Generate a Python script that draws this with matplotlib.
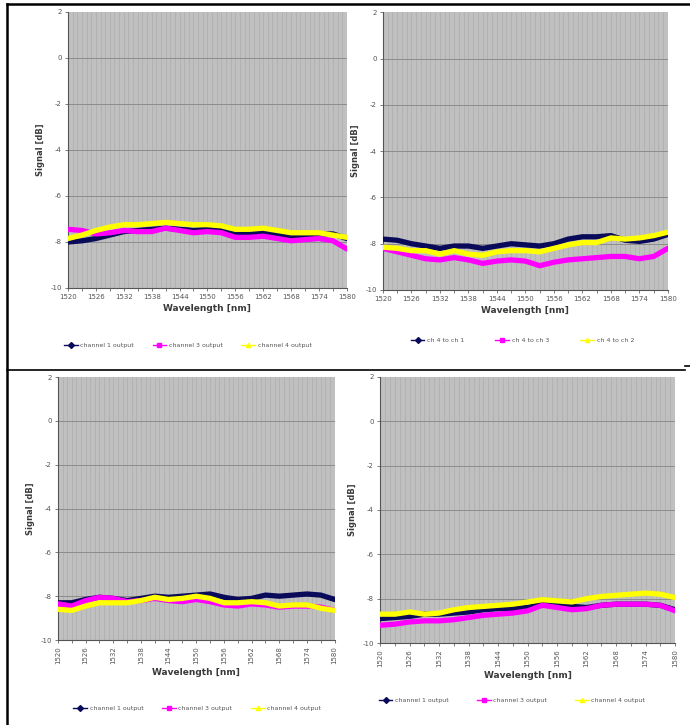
import matplotlib
matplotlib.use("Agg")
import matplotlib.pyplot as plt
from matplotlib.lines import Line2D

plt.rcParams["axes.unicode_minus"] = False

# wavelength sample points (nm)
wl = [1520, 1523, 1526, 1529, 1532, 1535, 1538, 1541, 1544, 1547, 1550,
      1553, 1556, 1559, 1562, 1565, 1568, 1571, 1574, 1577, 1580]
xticks = [1520, 1526, 1532, 1538, 1544, 1550, 1556, 1562, 1568, 1574, 1580]
yticks = [-10, -8, -6, -4, -2, 0, 2]

labels_out = ["channel 1 output", "channel 3 output", "channel 4 output"]
labels_ch4 = ["ch 4 to ch 1", "ch 4 to ch 3", "ch 4 to ch 2"]

# top-left panel
tl_ch1 = [-8.0, -7.95, -7.85, -7.7, -7.55, -7.5, -7.45, -7.4, -7.45, -7.5, -7.45,
          -7.5, -7.65, -7.6, -7.6, -7.7, -7.75, -7.7, -7.65, -7.65, -7.85]
tl_ch3 = [-7.45, -7.5, -7.65, -7.6, -7.5, -7.55, -7.55, -7.4, -7.5, -7.6, -7.55,
          -7.6, -7.8, -7.8, -7.75, -7.85, -7.95, -7.9, -7.85, -7.95, -8.3]
tl_ch4 = [-7.85, -7.7, -7.5, -7.35, -7.25, -7.25, -7.2, -7.15, -7.2, -7.25, -7.25,
          -7.3, -7.45, -7.45, -7.4, -7.5, -7.6, -7.6, -7.6, -7.7, -7.8]

# top-right panel
tr_a = [-7.8, -7.85, -8.0, -8.1, -8.2, -8.1, -8.1, -8.2, -8.1, -8.0, -8.05,
        -8.1, -8.0, -7.8, -7.7, -7.7, -7.65, -7.85, -7.9, -7.8, -7.6]
tr_b = [-8.2, -8.35, -8.5, -8.65, -8.7, -8.6, -8.7, -8.85, -8.75, -8.7, -8.75,
        -8.95, -8.8, -8.7, -8.65, -8.6, -8.55, -8.55, -8.65, -8.55, -8.2]
tr_c = [-8.15, -8.2, -8.3, -8.3, -8.45, -8.3, -8.45, -8.5, -8.35, -8.3, -8.3,
        -8.35, -8.2, -8.05, -7.95, -7.95, -7.75, -7.8, -7.75, -7.65, -7.5]

# bottom-left panel
bl_ch1 = [-8.3, -8.3, -8.15, -8.05, -8.1, -8.2, -8.1, -8.0, -8.05, -8.0, -7.95,
          -7.9, -8.05, -8.15, -8.1, -7.95, -8.0, -7.95, -7.9, -7.95, -8.15]
bl_ch3 = [-8.35, -8.45, -8.2, -8.05, -8.1, -8.25, -8.2, -8.1, -8.2, -8.25, -8.15,
          -8.25, -8.4, -8.45, -8.35, -8.4, -8.5, -8.45, -8.45, -8.5, -8.65]
bl_ch4 = [-8.6, -8.65, -8.45, -8.3, -8.3, -8.3, -8.2, -8.05, -8.15, -8.1, -8.0,
          -8.1, -8.3, -8.3, -8.25, -8.3, -8.45, -8.4, -8.4, -8.55, -8.65]

# bottom-right panel
br_ch1 = [-8.9, -8.85, -8.8, -8.7, -8.7, -8.65, -8.6, -8.5, -8.45, -8.45, -8.4,
          -8.25, -8.3, -8.35, -8.4, -8.3, -8.25, -8.25, -8.25, -8.3, -8.5]
br_ch3 = [-9.2, -9.15, -9.05, -9.0, -9.0, -8.95, -8.85, -8.75, -8.7, -8.65, -8.55,
          -8.3, -8.4, -8.5, -8.45, -8.3, -8.25, -8.25, -8.25, -8.3, -8.55]
br_ch4 = [-8.7, -8.7, -8.6, -8.7, -8.65, -8.5, -8.4, -8.35, -8.3, -8.25, -8.15,
          -8.05, -8.1, -8.15, -8.0, -7.9, -7.85, -7.8, -7.75, -7.8, -7.95]

COLORS = ["#0a0a5a", "#ff00ff", "#ffff00"]
MARKERS = ["D", "s", "^"]
TXT = "#3a3a3a"


def draw(fig, rect, series, names, rotate, leg_pos, leg_spacing):
    ax = fig.add_axes(rect)
    ax.set_facecolor("#c0c0c0")
    for i, ys in enumerate(series):
        ax.plot(wl, ys, color=COLORS[i], linewidth=3.8, solid_capstyle="round",
                solid_joinstyle="round", zorder=3 + i)
    ax.set_xlim(1520, 1580)
    ax.set_ylim(-10, 2)
    ax.set_xticks(xticks)
    ax.set_xticks(range(1520, 1581, 3), minor=True)
    ax.set_yticks(yticks)
    ax.set_xticklabels([str(t) for t in xticks], rotation=90 if rotate else 0)
    # 1 nm vertical grid, 2 dB horizontal grid
    for x in range(1521, 1580):
        ax.axvline(x, color="#b0b0b0", linewidth=0.6, zorder=1)
    for y in yticks[1:-1]:
        ax.axhline(y, color="#8c8c8c", linewidth=0.7, zorder=1)
    ax.tick_params(axis="both", which="both", direction="out", length=2.5,
                   width=0.6, colors="#666666", labelsize=5, labelcolor="#555555",
                   pad=2)
    for side in ["top", "right"]:
        ax.spines[side].set_visible(False)
    for side in ["left", "bottom"]:
        ax.spines[side].set_color("#555555")
        ax.spines[side].set_linewidth(0.8)
    ax.set_xlabel("Wavelength [nm]", fontsize=6.5, fontweight="bold", color=TXT,
                  labelpad=3)
    ax.set_ylabel("Signal [dB]", fontsize=6, fontweight="bold", color=TXT,
                  labelpad=4)

    handles = [Line2D([], [], color=COLORS[i], marker=MARKERS[i], markersize=3,
                      linewidth=1.0) for i in range(3)]
    leg = ax.legend(handles, names, loc="center", bbox_to_anchor=leg_pos,
                    bbox_transform=fig.transFigure, ncol=3, frameon=False,
                    fontsize=4.5, handlelength=2.2, handletextpad=0.4,
                    columnspacing=leg_spacing)
    for t in leg.get_texts():
        t.set_color("#555555")
    return ax


fig = plt.figure(figsize=(6.9, 7.25), dpi=100)

draw(fig, [0.0986, 0.6028, 0.404, 0.3807], [tl_ch1, tl_ch3, tl_ch4], labels_out,
     False, (0.272, 0.524), 3.0)
draw(fig, [0.555, 0.600, 0.413, 0.383], [tr_a, tr_b, tr_c], labels_ch4,
     False, (0.757, 0.531), 5.0)
draw(fig, [0.084, 0.1172, 0.401, 0.3628], [bl_ch1, bl_ch3, bl_ch4], labels_out,
     True, (0.286, 0.023), 3.0)
draw(fig, [0.551, 0.1131, 0.4275, 0.367], [br_ch1, br_ch3, br_ch4], labels_out,
     True, (0.742, 0.034), 4.5)

# table borders around the panels
H = 725.0
W = 690.0
fig.add_artist(Line2D([7 / W, 7 / W], [0, 1 - 4 / H], color="black", linewidth=1.8))
fig.add_artist(Line2D([7 / W, 1], [1 - 4 / H, 1 - 4 / H], color="black", linewidth=1.8))
fig.add_artist(Line2D([7 / W, 685 / W], [1 - 370 / H, 1 - 370 / H], color="black",
                      linewidth=1.2))
fig.add_artist(Line2D([685 / W, 1], [1 - 366 / H, 1 - 366 / H], color="black",
                      linewidth=1.2))

fig.savefig("out.png", dpi=100)
